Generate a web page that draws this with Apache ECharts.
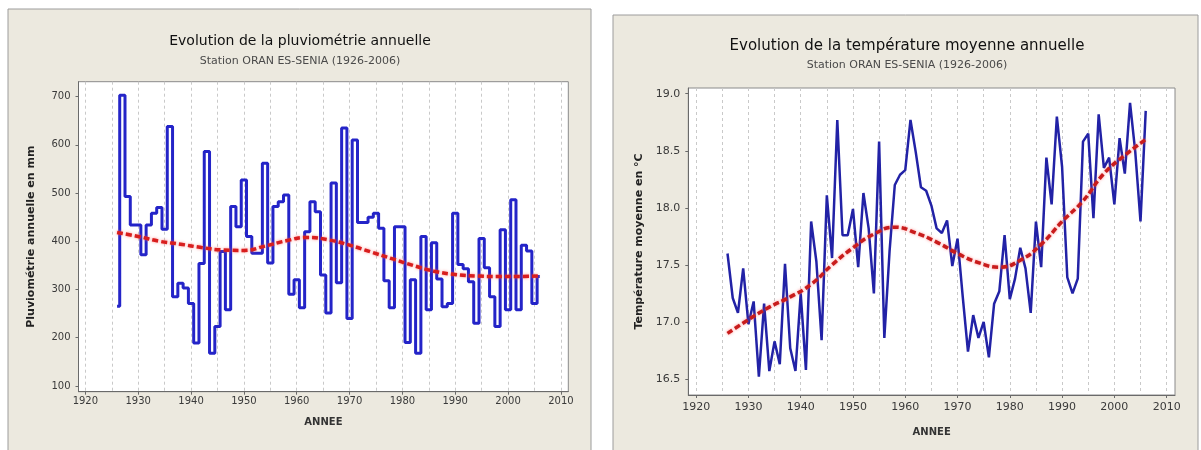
<!DOCTYPE html>
<html><head><meta charset="utf-8">
<script src="https://cdn.jsdelivr.net/npm/echarts@6/dist/echarts.min.js"></script>
<style>html,body{margin:0;padding:0;background:#fff}#c{width:1201px;height:450px}</style>
</head><body><div id="c"></div>
<script>
// ---- data ----
const years = [1926,1927,1928,1929,1930,1931,1932,1933,1934,1935,1936,1937,1938,1939,1940,1941,1942,1943,1944,1945,1946,1947,1948,1949,1950,1951,1952,1953,1954,1955,1956,1957,1958,1959,1960,1961,1962,1963,1964,1965,1966,1967,1968,1969,1970,1971,1972,1973,1974,1975,1976,1977,1978,1979,1980,1981,1982,1983,1984,1985,1986,1987,1988,1989,1990,1991,1992,1993,1994,1995,1996,1997,1998,1999,2000,2001,2002,2003,2004,2005,2006];
const rainfall = [265,703,493,434,434,372,434,458,470,425,638,285,313,303,271,189,354,586,168,223,379,258,472,430,527,410,375,375,562,355,472,482,496,290,320,262,420,482,461,330,251,521,314,635,240,610,439,439,450,458,427,318,262,430,430,190,320,168,410,258,397,322,264,271,458,352,343,316,230,406,345,285,223,424,258,486,258,392,380,271,327];
const temperature = [17.60,17.21,17.08,17.47,16.98,17.18,16.52,17.16,16.57,16.83,16.63,17.51,16.77,16.57,17.25,16.58,17.88,17.53,16.84,18.11,17.56,18.77,17.76,17.76,17.99,17.48,18.13,17.82,17.25,18.58,16.86,17.62,18.20,18.29,18.33,18.77,18.49,18.18,18.15,18.02,17.82,17.78,17.89,17.49,17.73,17.22,16.74,17.06,16.86,17.00,16.69,17.16,17.27,17.76,17.20,17.38,17.65,17.47,17.08,17.88,17.48,18.44,18.03,18.80,18.36,17.39,17.25,17.38,18.58,18.65,17.91,18.82,18.35,18.44,18.03,18.61,18.30,18.92,18.49,17.88,18.85];
const trendYears = [1926,1930,1934,1938,1942,1946,1950,1954,1958,1962,1966,1970,1974,1978,1982,1986,1990,1994,1998,2002,2006];
const rainTrend = [418,410,400,394,387,382,381,390,401,408,403,392,378,364,350,338,331,328,327,327,328];
const tempTrend = [16.90,17.02,17.13,17.22,17.33,17.50,17.65,17.77,17.83,17.78,17.70,17.60,17.52,17.48,17.54,17.68,17.88,18.06,18.30,18.46,18.60];
const decadeTicks = [1920,1930,1940,1950,1960,1970,1980,1990,2000,2010];
const gridYears = [1920,1925,1930,1935,1940,1945,1950,1955,1960,1965,1970,1975,1980,1985,1990,1995,2000,2005,2010];
const rainTicks = [100,200,300,400,500,600,700];
const tempTicks = [16.5,17.0,17.5,18.0,18.5,19.0];

const leftTitle = 'Evolution de la pluviométrie annuelle';
const rightTitle = 'Evolution de la température moyenne annuelle';
const leftSub = 'Station ORAN ES-SENIA (1926-2006)';
const rightSub = 'Station ORAN ES-SENIA (1926-2006)';
const rainName = 'Pluviométrie annuelle en mm';
const tempName = 'Température moyenne en °C';
const xName = 'ANNEE';

// ---- chart ----
const F = 'DejaVu Sans';
const pair = (xs, ys) => xs.map((x, i) => [x, ys[i]]);
const chart = echarts.init(document.getElementById('c'), null, {renderer: 'canvas'});

function mainX(grid, min, max, gap, lblSize, lblMargin) {
  return {
    type: 'value', gridIndex: grid, min: min, max: max, position: 'bottom',
    axisLine: {show: true, lineStyle: {color: '#6a6a6a', width: 1}},
    axisTick: {show: true, customValues: decadeTicks, length: 3, lineStyle: {color: '#6a6a6a'}},
    axisLabel: {customValues: decadeTicks, color: '#3a3a3a', fontFamily: F, fontSize: lblSize, margin: lblMargin,
                formatter: v => String(v)},
    splitLine: {show: false},
    name: xName, nameLocation: 'middle', nameGap: gap,
    nameTextStyle: {fontFamily: F, fontSize: 10, color: '#333', fontWeight: 'bold'}
  };
}
function gridX(grid, min, max) {
  return {
    type: 'value', gridIndex: grid, min: min, max: max, position: 'top',
    axisLine: {show: false}, axisLabel: {show: false},
    axisTick: {show: false, customValues: gridYears},
    splitLine: {show: true, lineStyle: {color: '#c9c9c9', type: [3, 3], width: 1}}
  };
}

const option = {
  animation: false,
  backgroundColor: '#ffffff',
  graphic: [
    {type: 'rect', z: -10, shape: {x: 8, y: 9, width: 583, height: 460}, style: {fill: '#ece9df', stroke: '#9c9c9c', lineWidth: 1}},
    {type: 'rect', z: -10, shape: {x: 613, y: 15, width: 585, height: 460}, style: {fill: '#ece9df', stroke: '#9c9c9c', lineWidth: 1}}
  ],
  title: [
    {text: leftTitle, left: 300, top: 34, textAlign: 'center', padding: 0,
     textStyle: {fontFamily: F, fontSize: 14, fontWeight: 'normal', color: '#111'}},
    {text: leftSub, left: 300, top: 56, textAlign: 'center', padding: 0,
     textStyle: {fontFamily: F, fontSize: 11, fontWeight: 'normal', color: '#4a4a4a'}},
    {text: rightTitle, left: 907, top: 39, textAlign: 'center', padding: 0,
     textStyle: {fontFamily: F, fontSize: 15, fontWeight: 'normal', color: '#111'}},
    {text: rightSub, left: 907, top: 60, textAlign: 'center', padding: 0,
     textStyle: {fontFamily: F, fontSize: 11, fontWeight: 'normal', color: '#4a4a4a'}}
  ],
  grid: [
    {left: 78.5, top: 81.7, width: 489.8, height: 310, show: true, backgroundColor: '#ffffff', borderColor: '#8a8a8a', borderWidth: 1, outerBoundsMode: 'none'},
    {left: 688.3, top: 88, width: 486.7, height: 307, show: true, backgroundColor: '#ffffff', borderColor: '#8a8a8a', borderWidth: 1, outerBoundsMode: 'none'}
  ],
  xAxis: [
    mainX(0, 1918.7, 2011.4, 26, 10, 5),
    gridX(0, 1918.7, 2011.4),
    mainX(1, 1918.5, 2011.6, 32, 11, 7),
    gridX(1, 1918.5, 2011.6)
  ],
  yAxis: [
    {type: 'value', gridIndex: 0, min: 88, max: 731,
     axisLine: {show: true, lineStyle: {color: '#6a6a6a'}},
     axisTick: {show: true, customValues: rainTicks, length: 3, lineStyle: {color: '#6a6a6a'}},
     axisLabel: {customValues: rainTicks, color: '#3a3a3a', fontFamily: F, fontSize: 10, margin: 8,
                 formatter: v => String(v)},
     splitLine: {show: false},
     name: rainName, nameLocation: 'middle', nameGap: 42, nameRotate: 90,
     nameTextStyle: {fontFamily: F, fontSize: 11, color: '#222', fontWeight: 'bold'}},
    {type: 'value', gridIndex: 1, min: 16.36, max: 19.05,
     axisLine: {show: true, lineStyle: {color: '#6a6a6a'}},
     axisTick: {show: true, customValues: tempTicks, length: 3, lineStyle: {color: '#6a6a6a'}},
     axisLabel: {customValues: tempTicks, color: '#3a3a3a', fontFamily: F, fontSize: 11, margin: 8,
                 formatter: v => Number(v).toFixed(1)},
     splitLine: {show: false},
     name: tempName, nameLocation: 'middle', nameGap: 44, nameRotate: 90,
     nameTextStyle: {fontFamily: F, fontSize: 11, color: '#222', fontWeight: 'bold'}}
  ],
  series: [
    {type: 'line', xAxisIndex: 0, yAxisIndex: 0, step: 'middle', showSymbol: false, z: 3,
     data: pair(years, rainfall),
     lineStyle: {color: '#2424c8', width: 3}},
    {type: 'line', xAxisIndex: 0, yAxisIndex: 0, smooth: true, showSymbol: false, z: 4,
     data: pair(trendYears, rainTrend),
     lineStyle: {color: '#d81e1e', width: 3.5, type: [6, 3], shadowColor: 'rgba(255,90,90,0.7)', shadowBlur: 3}},
    {type: 'line', xAxisIndex: 2, yAxisIndex: 1, showSymbol: false, z: 3,
     data: pair(years, temperature),
     lineStyle: {color: '#2222a6', width: 2.5}},
    {type: 'line', xAxisIndex: 2, yAxisIndex: 1, smooth: true, showSymbol: false, z: 4,
     data: pair(trendYears, tempTrend),
     lineStyle: {color: '#c81c1c', width: 3.5, type: [6, 3], shadowColor: 'rgba(255,90,90,0.7)', shadowBlur: 3}}
  ]
};
chart.setOption(option);
</script>
</body></html>
